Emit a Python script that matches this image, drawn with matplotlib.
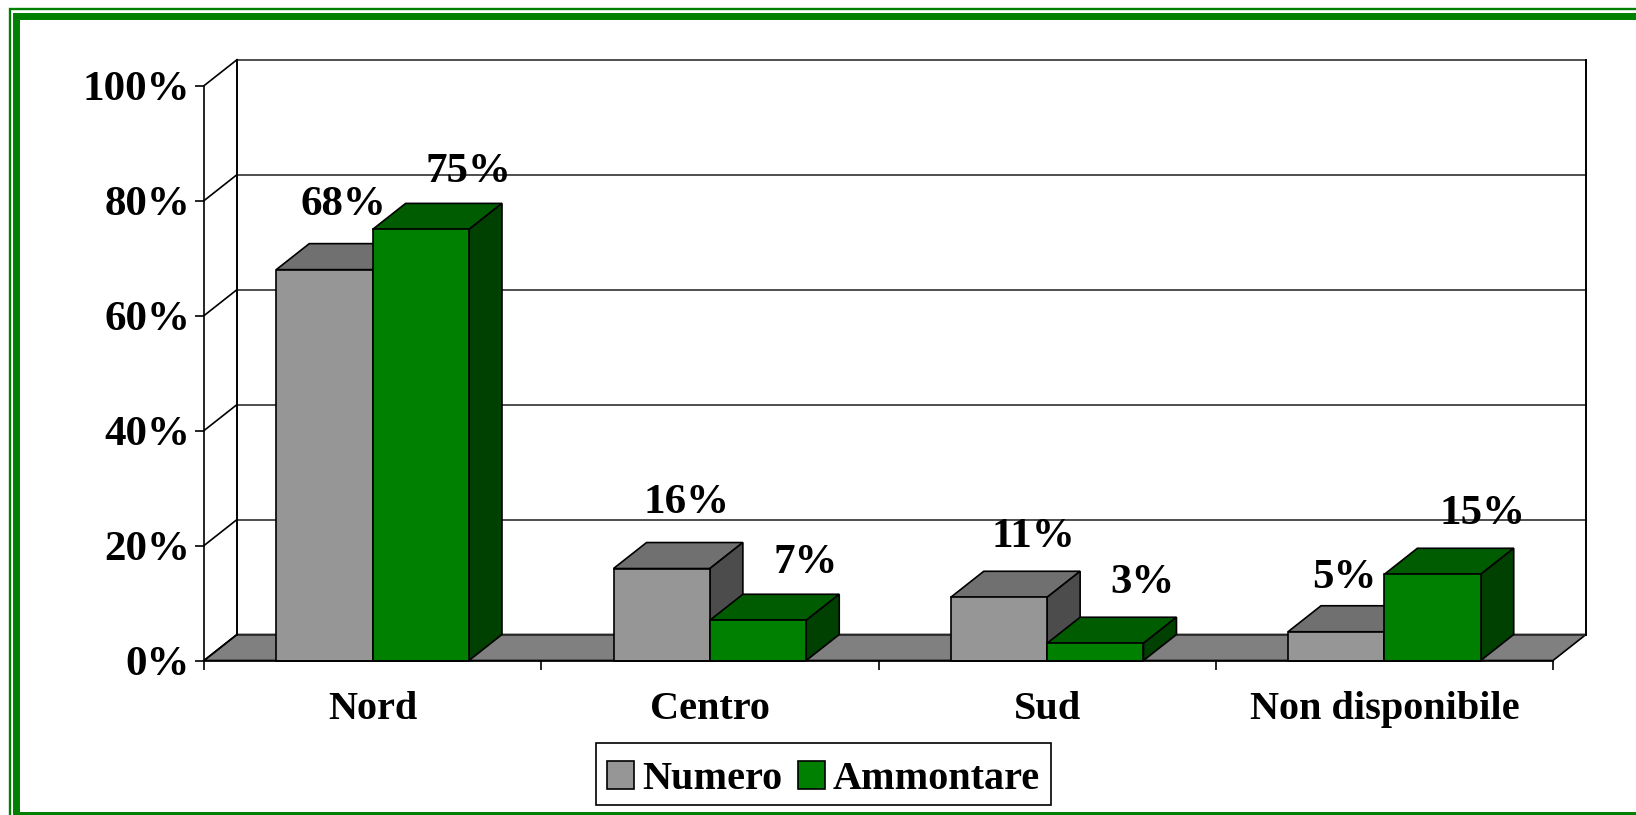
import matplotlib
matplotlib.use("Agg")
import matplotlib.pyplot as plt
from matplotlib.patches import Rectangle

categories = ["Nord", "Centro", "Sud", "Non disponibile"]
numero = [68, 16, 11, 5]
ammontare = [75, 7, 3, 15]
y_ticks = [0, 20, 40, 60, 80, 100]

W, H = 1636, 815
plt.rcParams["font.family"] = ["Liberation Serif", "DejaVu Serif"]
plt.rcParams["font.weight"] = "bold"

fig = plt.figure(figsize=(W / 100, H / 100), dpi=100, facecolor="white")
ax = fig.add_axes([204 / W, (H - 660.5) / H, 1349 / W, 574.8 / H])
ax.set_xlim(0, 4)
ax.set_ylim(0, 100)
ax.patch.set_visible(False)

# depth of the fake 3d box, in data units
dx = 33 / (1349 / 4)
dy = 26 / 5.748
bar_w = 1 / 3.5


def face(xs, ys, color, z):
    ax.fill(xs, ys, facecolor=color, edgecolor="black", linewidth=1.2, clip_on=False, zorder=z)


# walls and floor
ax.fill([0, 4, 4 + dx, dx], [0, 0, dy, dy], facecolor="#808080", edgecolor="black", linewidth=1.2,
        clip_on=False, zorder=1)
for v in y_ticks:
    ax.plot([dx, 4 + dx], [v + dy, v + dy], color="#303030", lw=1.2, clip_on=False, zorder=1)
    ax.plot([0, dx], [v, v + dy], color="black", lw=1.2, clip_on=False, zorder=1)
ax.plot([dx, dx], [dy, 100 + dy], color="black", lw=1.4, clip_on=False, zorder=1)
ax.plot([4 + dx, 4 + dx], [dy, 100 + dy], color="black", lw=1.4, clip_on=False, zorder=1)


def draw_bar(left, val, front, top, side, z):
    face([left, left + bar_w, left + bar_w + dx, left + dx], [val, val, val + dy, val + dy], top, z)
    face([left + bar_w, left + bar_w + dx, left + bar_w + dx, left + bar_w],
         [0, dy, val + dy, val], side, z)
    ax.bar(left, val, width=bar_w, align="edge", color=front, edgecolor="black", linewidth=1.2,
           clip_on=False, zorder=z + 0.1)


for i in range(len(categories)):
    left = i + 0.5 - bar_w
    draw_bar(left, numero[i], "#969696", "#707070", "#4c4c4c", 2 + i)
    draw_bar(left + bar_w, ammontare[i], "#008000", "#005c00", "#004000", 2.5 + i)

# data labels, offset from the top of each bar front in pixels
offs_numero = [(19, 69), (25, 70), (34, 65), (8, 58)]
offs_ammontare = [(48, 62), (48, 62), (47, 65), (50, 65)]
for i in range(len(categories)):
    c = i + 0.5
    ax.annotate(f"{numero[i]}%", (c - bar_w / 2, numero[i]), xytext=offs_numero[i],
                textcoords="offset pixels", ha="center", va="center_baseline", fontsize=31, zorder=10)
    ax.annotate(f"{ammontare[i]}%", (c + bar_w / 2, ammontare[i]), xytext=offs_ammontare[i],
                textcoords="offset pixels", ha="center", va="center_baseline", fontsize=31, zorder=10)

for s in ["top", "right"]:
    ax.spines[s].set_visible(False)
for s in ["left", "bottom"]:
    ax.spines[s].set_linewidth(1.2)
    ax.spines[s].set_zorder(20)

ax.set_yticks(y_ticks)
ax.set_yticklabels([f"{v}%" for v in y_ticks], fontsize=31)
ax.tick_params(axis="y", length=6.5, width=1.2, pad=3.5)
ax.set_xticks(range(5))
ax.set_xticklabels([])
ax.tick_params(axis="x", which="major", length=6.5, width=1.2)
ax.set_xticks([i + 0.5 for i in range(4)], minor=True)
ax.set_xticklabels(categories, minor=True, fontsize=29)
ax.tick_params(axis="x", which="minor", length=0, pad=22)

handles = [Rectangle((0, 0), 1, 1, facecolor="#969696", edgecolor="black", linewidth=1.2),
           Rectangle((0, 0), 1, 1, facecolor="#008000", edgecolor="black", linewidth=1.2)]
leg = fig.legend(handles, ["Numero", "Ammontare"], ncol=2, loc="center",
                 bbox_to_anchor=(823.5 / W, (H - 779.7) / H), fontsize=29, frameon=False,
                 handlelength=0.66, handleheight=0.66,
                 handletextpad=0.2, columnspacing=0.4, borderpad=0.3, borderaxespad=0)
# legend box is drawn apart, the text sits low inside it
fig.add_artist(Rectangle((596 / W, (H - 804.7) / H), 455 / W, 62 / H, transform=fig.transFigure,
                         fill=False, edgecolor="black", linewidth=1.2))

# double green frame, runs off the right and bottom edges
fig.add_artist(Rectangle((9.5 / W, -0.05), 1.1, (H - 9) / H + 0.05, transform=fig.transFigure,
                         fill=False, edgecolor="#008000", linewidth=1.7))
fig.add_artist(Rectangle((16.3 / W, 0), 1.1, (H - 16) / H, transform=fig.transFigure,
                         fill=False, edgecolor="#008000", linewidth=5))

fig.savefig("out.png", dpi=100, facecolor="white")
